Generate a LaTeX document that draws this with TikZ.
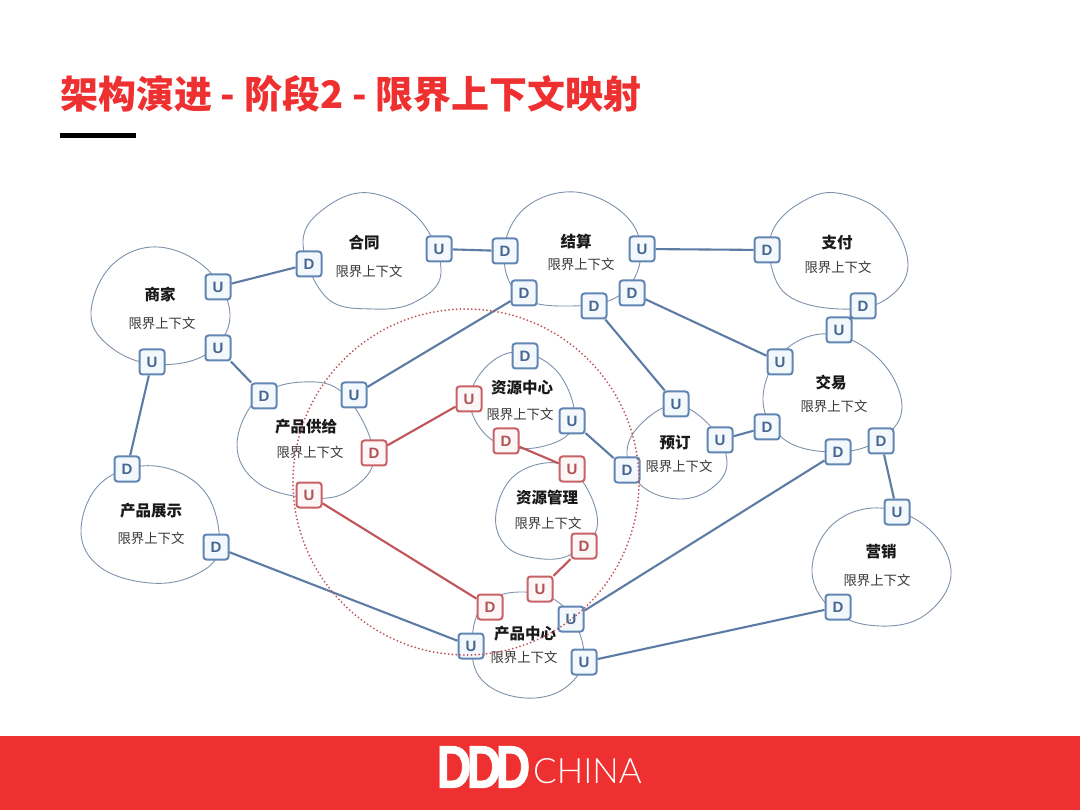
\documentclass[tikz,border=0pt]{standalone}
\usepackage{fontspec}
\setmainfont{Noto Sans CJK SC}
\newfontfamily\portfont{Liberation Sans}
\newfontfamily\logofont[BoldFeatures={FakeBold=1.5}]{Liberation Sans}
\newfontfamily\chinafont{Lato Light}
\usepackage{xcolor}
\usepackage{tikz}
\usetikzlibrary{positioning,calc}
\definecolor{cRed}    {RGB}{238,48,48}
\definecolor{cBlue}   {RGB}{98,134,180}
\definecolor{cBlueTx} {RGB}{72,104,146}
\definecolor{cBlueF}  {RGB}{243,248,253}
\definecolor{cPink}   {RGB}{200,98,102}
\definecolor{cPinkTx} {RGB}{176,84,88}
\definecolor{cPinkF}  {RGB}{253,246,246}
\definecolor{cCtx}    {RGB}{125,146,170}
\definecolor{cLink}   {RGB}{92,124,166}
\definecolor{cRedLink}{RGB}{192,84,88}
\tikzset{
  port/.style={draw=cBlue,fill=cBlueF,rounded corners=3pt,line width=2pt,
               minimum size=25pt,inner sep=0pt,text=cBlueTx,
               font=\fontsize{15}{15}\selectfont\portfont\bfseries},
  portR/.style={port,draw=cPink,fill=cPinkF,text=cPinkTx},
  ctxline/.style={draw=cCtx,line width=0.9pt},
  ctxname/.style={font=\fontsize{15.5}{16}\selectfont\bfseries,text=black!90,inner sep=0pt},
  ctxsub/.style={font=\fontsize{13.4}{14}\selectfont,text=black!78,inner sep=0pt},
  link/.style={-,cLink,line width=2.1pt},
  linkR/.style={-,cRedLink,line width=2.1pt},
  logoD/.style={text=white,inner sep=0pt,font=\fontsize{60}{60}\selectfont\logofont\bfseries},
}

\begin{document}
\begin{tikzpicture}[x=1pt,y=-1pt]
  \useasboundingbox (0,0) rectangle (1080,810);
  \fill[white] (0,0) rectangle (1080,810);

  % ---- title and footer ----
  \node[anchor=west,inner sep=0pt,text=cRed,font=\fontsize{38}{40}\selectfont\bfseries] (title)
    at (60,94) {架构演进 - 阶段2 - 限界上下文映射};
  \fill[black] (60,133) rectangle (136,138);
  \fill[cRed] (0,736) rectangle (1080,810);
  \node[logoD] (logo1) at (454,767) {\scalebox{0.8}[1]{D}};
  \node[logoD] (logo2) at (484,767) {\scalebox{0.8}[1]{D}};
  \node[logoD] (logo3) at (513,767) {\scalebox{0.8}[1]{D}};
  \node[anchor=west,inner sep=0pt,text=white,font=\fontsize{35}{35}\selectfont\chinafont] (china)
    at (533,771) {CHINA};

  % ---- context outlines ----
  \tikzset{every plot/.style={smooth cycle,tension=0.66}}
  \draw[ctxline] plot coordinates {(91,312) (112,265) (158,247) (208,270) (230,317) (205,355) (152,364) (108,345)};
  \draw[ctxline] plot coordinates {(303,243) (325,208) (370,193) (420,220) (441,273) (415,302) (373,309) (327,298)};
  \draw[ctxline] plot coordinates {(504,252) (525,208) (575,192) (625,215) (641,255) (620,295) (570,306) (520,296)};
  \draw[ctxline] plot coordinates {(773,230) (800,203) (837,193) (885,215) (908,265) (885,300) (840,309) (790,297) (771,265)};
  \draw[ctxline] plot coordinates {(763,400) (783,352) (830,334) (880,360) (902,407) (880,440) (835,452) (785,440)};
  \draw[ctxline] plot coordinates {(627,455) (640,425) (676,405) (712,428) (727,463) (712,488) (680,499) (643,487)};
  \draw[ctxline] plot coordinates {(237,445) (258,398) (303,382) (345,395) (374,455) (350,490) (310,498) (258,483)};
  \draw[ctxline] plot coordinates {(470,405) (485,368) (520,352) (560,375) (574,425) (540,447) (495,442)};
  \draw[ctxline] plot coordinates {(496,513) (515,475) (557,463) (585,485) (597,528) (570,555) (535,558) (505,545)};
  \draw[ctxline] plot coordinates {(472,650) (483,605) (525,592) (565,608) (584,655) (565,688) (525,698) (485,683)};
  \draw[ctxline] plot coordinates {(81,530) (102,482) (155,466) (205,492) (219,548) (195,575) (150,583) (100,567)};
  \draw[ctxline] plot coordinates {(812,572) (832,525) (880,508) (930,530) (951,575) (925,615) (880,626) (835,612)};

  % ---- context labels ----
  \newcommand{\ctxlabel}[4]{% #1 name #2 title pos #3 title #4 sub pos
    \node[ctxname] (#1) at (#2) {#3};
    \node[ctxsub] (#1sub) at (#4) {限界上下文};}
  \ctxlabel{shang}{160,295}{商家}{162,323}
  \ctxlabel{hetong}{364,243}{合同}{369,271}
  \ctxlabel{jiesuan}{576,242}{结算}{581,264}
  \ctxlabel{zhifu}{837,243}{支付}{838,267}
  \ctxlabel{jiaoyi}{831,383}{交易}{834,406}
  \ctxlabel{yuding}{675,443}{预订}{679,466}
  \ctxlabel{gongji}{306,427}{产品供给}{310,452}
  \ctxlabel{zyzx}{522,388}{资源中心}{520,414}
  \ctxlabel{zygl}{547,498}{资源管理}{548,523}
  \ctxlabel{cpzx}{525,634}{产品中心}{524,657}
  \ctxlabel{zhanshi}{151,511}{产品展示}{151,538}
  \ctxlabel{yingxiao}{881,552}{营销}{877,580}

  % ---- ports, blue ----
  \foreach \n/\x/\y/\t in {shangA/218/287/U, shangB/218/348/U, shangC/152/362/U,
      heD/309/264/D, heU/439/249/U,
      jsA/505/251/D, jsB/642/249/U, jsC/524/293/D, jsD/594/306/D, jsE/632/293/D,
      zfA/767/250/D, zfB/863/306/D,
      jyA/839/330/U, jyB/780/362/U, jyC/767/427/D, jyD/838/452/D, jyE/881/441/D,
      ydA/676/404/U, ydB/720/440/U, ydC/627/470/D,
      gjA/264/396/D, gjB/354/395/U,
      cpA/571/619/U, cpB/471/646/U, cpC/584/662/U,
      zsA/127/469/D, zsB/216/547/D,
      yxA/897/512/U, yxB/838/607/D, zxA/525/356/D, zxB/572/421/U}{
    \node[port] (\n) at (\x,\y) {\t};
  }
  % ---- ports, red ----
  \foreach \n/\x/\y/\t in {gjC/374/453/D, gjD/309/495/U,
      zxC/469/399/U, zxD/506/441/D,
      glA/572/469/U, glB/584/546/D,
      cpD/490/607/D, cpE/540/589/U}{
    \node[portR] (\n) at (\x,\y) {\t};
  }

  % ---- relations ----
  \foreach \a/\b in {shangA/heD, heU/jsA, jsB/zfA, shangB/gjA, shangC/zsA, jsC/gjB,
      jsD/ydA, jsE/jyB, zfB/jyA, ydB/jyC, zxB/ydC, jyD/cpA, jyE/yxA, zsB/cpB, cpC/yxB}{
    \draw[link] (\a)--(\b);
  }
  \foreach \a/\b in {gjC/zxC, zxD/glA, gjD/cpD, glB/cpE}{
    \draw[linkR] (\a)--(\b);
  }

  % ---- dotted boundary ----
  \node[draw=cRedLink,circle,line width=2pt,line cap=round,dash pattern=on 0pt off 3.8pt,
        minimum size=346pt,inner sep=0pt] (bound) at (466,482) {};
\end{tikzpicture}
\end{document}
